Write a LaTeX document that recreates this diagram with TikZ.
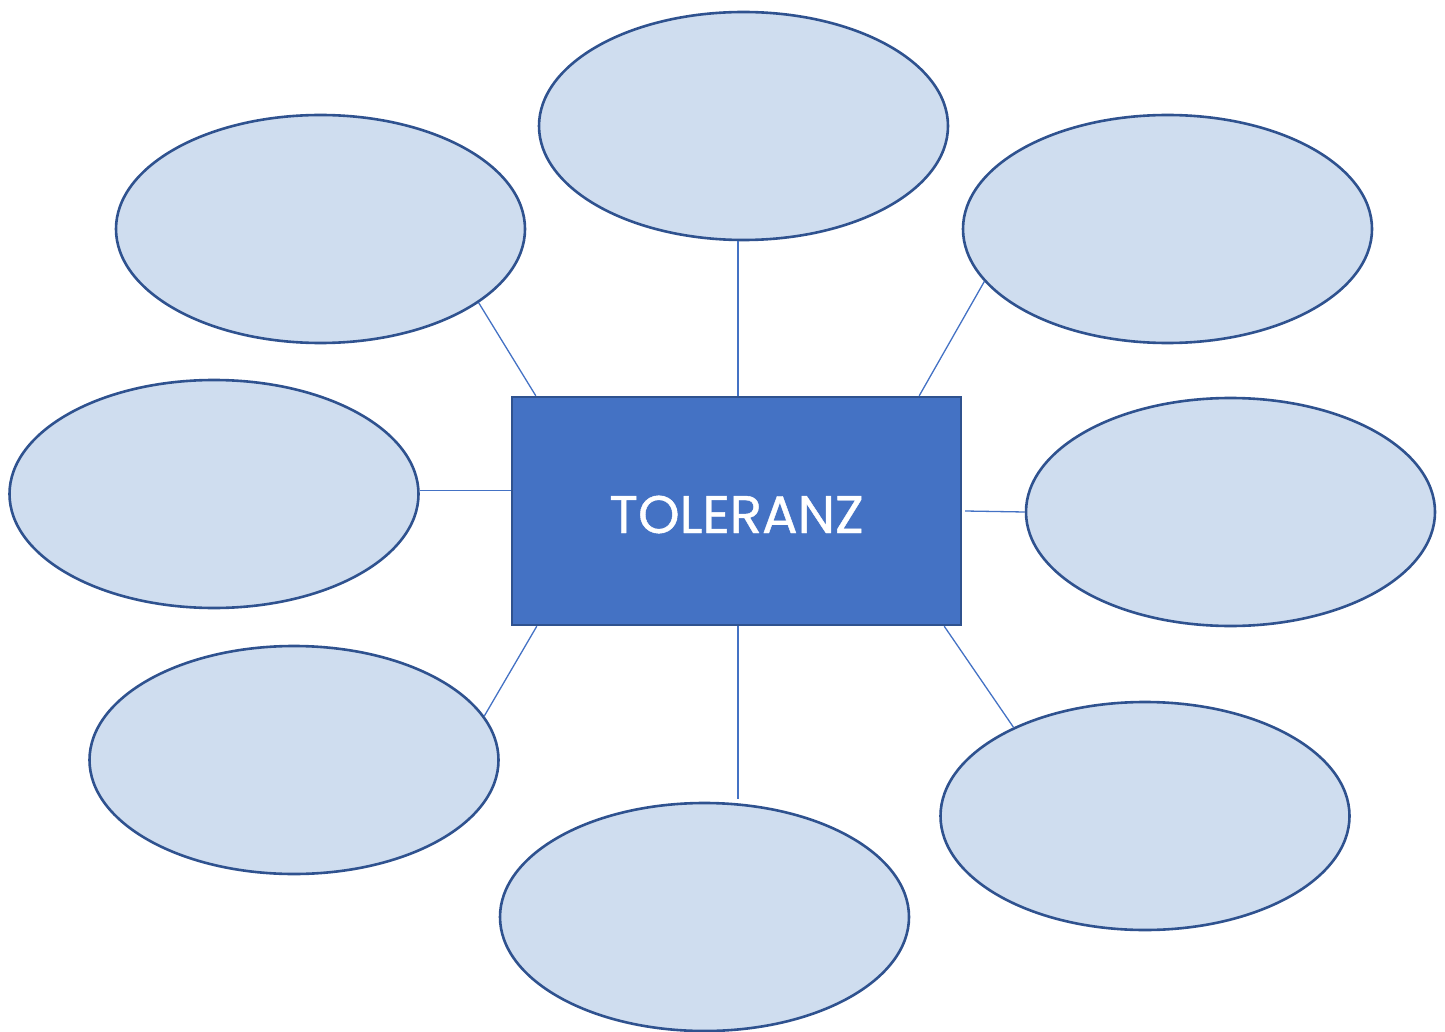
\documentclass[tikz,border=0pt]{standalone}
\usepackage{fontspec}
\setmainfont{Poppins}
\newfontfamily\titlefont{Poppins}[FakeBold=0.8]
\usetikzlibrary{shapes.geometric,calc}
\definecolor{ellfill}{RGB}{207,221,239}
\definecolor{edge}{RGB}{47,82,143}
\definecolor{accent}{RGB}{68,114,196}
\tikzset{
  bubble/.style={ellipse, draw=edge, fill=ellfill, line width=2.6pt, minimum width=409pt, minimum height=228pt, inner sep=0pt},
  centerbox/.style={rectangle, draw=edge, fill=accent, line width=2.4pt, minimum width=449pt, minimum height=228pt, inner sep=0pt,
     text=white, font=\titlefont\fontsize{53}{53}\selectfont, text height=44pt, text depth=0pt},
  link/.style={draw=accent, line width=1.3pt}
}
\begin{document}
\begin{tikzpicture}[x=1pt,y=-1pt]
\useasboundingbox (0,0) rectangle (1445,1032);
\node[bubble] (top) at (743.5,126) {};
\node[bubble] (tl) at (320.5,229) {};
\node[bubble] (tr) at (1167.5,229) {};
\node[bubble] (l) at (214,494) {};
\node[bubble] (r) at (1230.5,512) {};
\node[bubble] (bl) at (294,760) {};
\node[bubble] (b) at (704.5,917) {};
\node[bubble] (br) at (1145,816) {};
\node[centerbox] (rect) at (736.5,511) {TOLERANZ};
\coordinate (tc) at ($(rect.north)+(1.5,0)$);
\coordinate (bc) at ($(rect.south)+(1.5,0)$);
\coordinate (bend) at ($(b.north)+(0,-3)$);
\draw[link] (tc) -- (tc |- top.south);
\draw[link] (tl.-25.5) -- ($(rect.north west)+(25,0)$);
\draw[link] (tr.-164.8) -- ($(rect.north east)+(-43,0)$);
\draw[link] (l.1.1) -- (l.1.1 -| rect.west);
\draw[link] ($(rect.east)+(3,0)$) -- (r.west);
\draw[link] ($(rect.south west)+(26,0)$) -- (bl.13.4);
\draw[link] (bc) -- (bc |- bend);
\draw[link] ($(rect.south east)+(-18,0)$) -- (br.146.4);
\end{tikzpicture}
\end{document}
